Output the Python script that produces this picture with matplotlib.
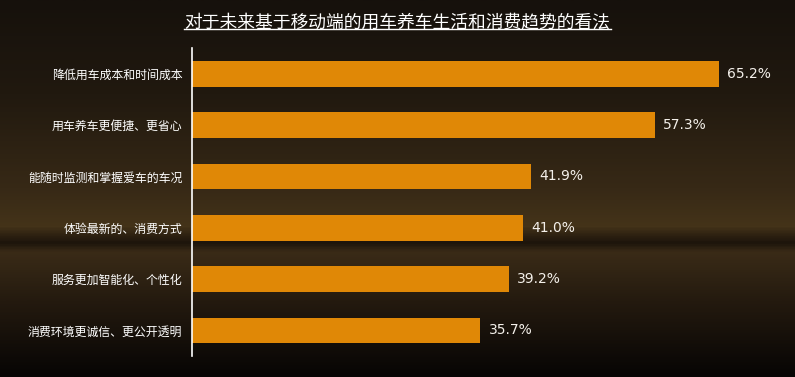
import numpy as np
import matplotlib.pyplot as plt
from matplotlib.colors import LinearSegmentedColormap

plt.rcParams['font.family'] = ['Noto Sans CJK SC', 'DejaVu Sans']

title = '对于未来基于移动端的用车养车生活和消费趋势的看法'
categories = ['降低用车成本和时间成本', '用车养车更便捷、更省心', '能随时监测和掌握爱车的车况',
              '体验最新的、消费方式', '服务更加智能化、个性化', '消费环境更诚信、更公开透明']
values = [65.2, 57.3, 41.9, 41.0, 39.2, 35.7]

bar_color = '#E08806'

fig = plt.figure(figsize=(7.95, 3.77), dpi=100)

# background gradient (dark top, brown glow in the middle, black bottom)
bg = fig.add_axes([0, 0, 1, 1])
stops = [(0.0, '#16110c'), (0.25, '#21190f'), (0.50, '#372916'), (0.60, '#443319'),
         (0.645, '#1c140b'), (0.67, '#3a2b17'), (0.80, '#241a0f'), (1.0, '#070504')]
cmap = LinearSegmentedColormap.from_list('bg', stops)
grad = np.linspace(0, 1, 400).reshape(-1, 1)
bg.imshow(grad, aspect='auto', cmap=cmap, extent=[0, 1, 0, 1], origin='upper')
bg.axis('off')

ax = fig.add_axes([192 / 795, 21 / 377, 588 / 795, 308 / 377])
ax.patch.set_alpha(0)
y = np.arange(len(categories))
ax.barh(y, values, height=0.5, color=bar_color)
ax.set_ylim(len(categories) - 0.5, -0.5)
ax.set_xlim(0, 588 / 8.08)
ax.set_yticks(y)
ax.set_yticklabels(categories, color='white', fontsize=8.6)
ax.tick_params(axis='y', length=0, pad=7)
ax.set_xticks([])
for s in ['top', 'right', 'bottom']:
    ax.spines[s].set_visible(False)
ax.spines['left'].set_color('white')
ax.spines['left'].set_linewidth(1.2)

for yi, v in zip(y, values):
    ax.annotate(f'{v:.1f}%', (v, yi), xytext=(6, 0), textcoords='offset points',
                va='center', ha='left', color='#f4f0ea', fontsize=10,
                family=['DejaVu Sans'])

t = fig.text(0.5, 1 - 22 / 377, title, ha='center', va='center', color='white', fontsize=12.8)

# underline the title
fig.canvas.draw()
bb = t.get_window_extent(fig.canvas.get_renderer()).transformed(fig.transFigure.inverted())
fig.add_artist(plt.Line2D([bb.x0, bb.x1], [bb.y0 + 0.006, bb.y0 + 0.006], color='white',
                          lw=1, transform=fig.transFigure))

fig.savefig('out.png', dpi=100)
